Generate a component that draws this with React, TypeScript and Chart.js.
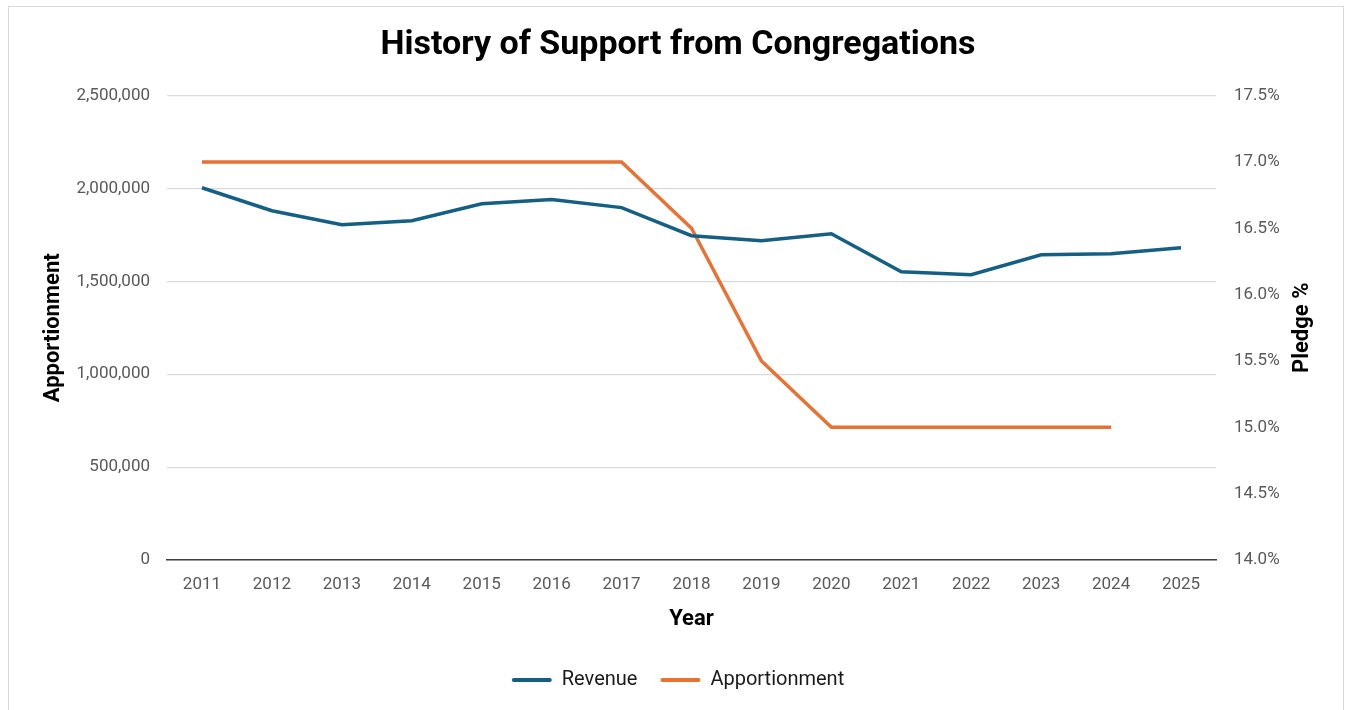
import React, { useEffect, useRef } from "react";
import { Chart, registerables } from "chart.js";

Chart.register(...registerables);

const years = ["2011", "2012", "2013", "2014", "2015", "2016", "2017", "2018", "2019", "2020", "2021", "2022", "2023", "2024", "2025"];
const revenue = [2004000, 1880000, 1805000, 1826000, 1918000, 1940000, 1897000, 1746000, 1719000, 1756000, 1552000, 1536000, 1643000, 1649000, 1681000];
const apportionmentPct = [17.0, 17.0, 17.0, 17.0, 17.0, 17.0, 17.0, 16.5, 15.5, 15.0, 15.0, 15.0, 15.0, 15.0, null];

const titleText = "History of Support from Congregations";
const leftAxisTitle = "Apportionment";
const rightAxisTitle = "Pledge %";
const xAxisTitle = "Year";

const BLUE = "#156082";
const ORANGE = "#E97132";
const FONT = "Roboto, 'Liberation Sans', Arial, sans-serif";
const AXIS_TITLE_SIZE = 22;

const rightTitlePlugin = {
  id: "rightTitle",
  afterDraw(chart: any) {
    const s = chart.scales.y1;
    if (!s) return;
    const ctx = chart.ctx;
    const area = chart.chartArea;
    const lh = AXIS_TITLE_SIZE * 1.2;
    ctx.save();
    ctx.translate(s.right - lh / 2, (area.top + area.bottom) / 2);
    ctx.rotate(-Math.PI / 2);
    ctx.font = `bold ${AXIS_TITLE_SIZE}px ${FONT}`;
    ctx.fillStyle = "#000000";
    ctx.textAlign = "center";
    ctx.textBaseline = "middle";
    ctx.fillText(rightAxisTitle, 0, 0);
    ctx.restore();
  },
};

export default function App() {
  const ref = useRef<HTMLCanvasElement | null>(null);

  useEffect(() => {
    document.body.style.margin = "0";
    const canvas = ref.current;
    if (!canvas) return;
    const chart = new Chart(canvas, {
      type: "line",
      data: {
        labels: years,
        datasets: [
          {
            label: "Revenue",
            data: revenue,
            borderColor: BLUE,
            backgroundColor: BLUE,
            borderWidth: 3.5,
            pointRadius: 0,
            tension: 0,
            yAxisID: "y",
          },
          {
            label: "Apportionment",
            data: apportionmentPct,
            borderColor: ORANGE,
            backgroundColor: ORANGE,
            borderWidth: 3.5,
            pointRadius: 0,
            tension: 0,
            yAxisID: "y1",
          },
        ],
      },
      plugins: [rightTitlePlugin],
      options: {
        animation: false,
        responsive: false,
        maintainAspectRatio: false,
        layout: { padding: { top: 10, left: 40, right: 31, bottom: 10 } },
        plugins: {
          title: {
            display: true,
            text: titleText,
            color: "#000000",
            font: { family: FONT, size: 34, weight: "bold" },
            padding: { top: 15, bottom: 29.8 },
          },
          legend: {
            display: true,
            position: "bottom",
            labels: {
              color: "#1a1a1a",
              font: { family: FONT, size: 20 },
              boxWidth: 40,
              boxHeight: 4,
              padding: 23,
              useBorderRadius: true,
              borderRadius: 2,
              generateLabels: (c: any) =>
                Chart.defaults.plugins.legend.labels.generateLabels(c).map((l: any) => ({
                  ...l,
                  lineWidth: 0,
                  borderRadius: 2,
                })),
            },
          },
          tooltip: { enabled: false },
        },
        scales: {
          x: {
            offset: true,
            grid: { display: false, drawTicks: false },
            border: { display: true, color: "#404040", width: 1.5 },
            ticks: { color: "#595959", font: { family: FONT, size: 17 }, padding: 15, maxRotation: 0 },
            title: {
              display: true,
              text: xAxisTitle,
              color: "#000000",
              font: { family: FONT, size: AXIS_TITLE_SIZE, weight: "bold" },
              padding: { top: 0, bottom: 14.8 },
            },
            afterFit: (s: any) => {
              s.height = 87;
            },
          },
          y: {
            position: "left",
            min: 0,
            max: 2500000,
            grid: { color: "#D9D9D9", lineWidth: 1.2, drawTicks: false },
            border: { display: false },
            ticks: {
              stepSize: 500000,
              color: "#595959",
              font: { family: FONT, size: 17 },
              padding: 17,
              callback: (v: any) => Number(v).toLocaleString("en-US"),
            },
            title: {
              display: true,
              text: leftAxisTitle,
              color: "#000000",
              font: { family: FONT, size: AXIS_TITLE_SIZE, weight: "bold" },
              padding: { top: 0, bottom: 0 },
            },
            afterFit: (s: any) => {
              s.width = 127;
            },
          },
          y1: {
            position: "right",
            min: 14,
            max: 17.5,
            grid: { display: false, drawTicks: false },
            border: { display: false },
            ticks: {
              stepSize: 0.5,
              color: "#595959",
              font: { family: FONT, size: 17 },
              padding: 18,
              callback: (v: any) => Number(v).toFixed(1) + "%",
            },
            title: { display: false },
            afterFit: (s: any) => {
              s.width = 100;
            },
          },
        },
      },
    });
    return () => chart.destroy();
  }, []);

  return (
    <div style={{ position: "relative", width: 1347, height: 710, background: "#ffffff", overflow: "hidden" }}>
      <div
        style={{
          position: "absolute",
          left: 8,
          top: 6,
          width: 1336,
          height: 720,
          border: "1px solid #D9D9D9",
          boxSizing: "border-box",
          pointerEvents: "none",
        }}
      />
      <canvas ref={ref} width={1347} height={710} style={{ position: "absolute", left: 0, top: 0, width: 1347, height: 710 }} />
    </div>
  );
}
